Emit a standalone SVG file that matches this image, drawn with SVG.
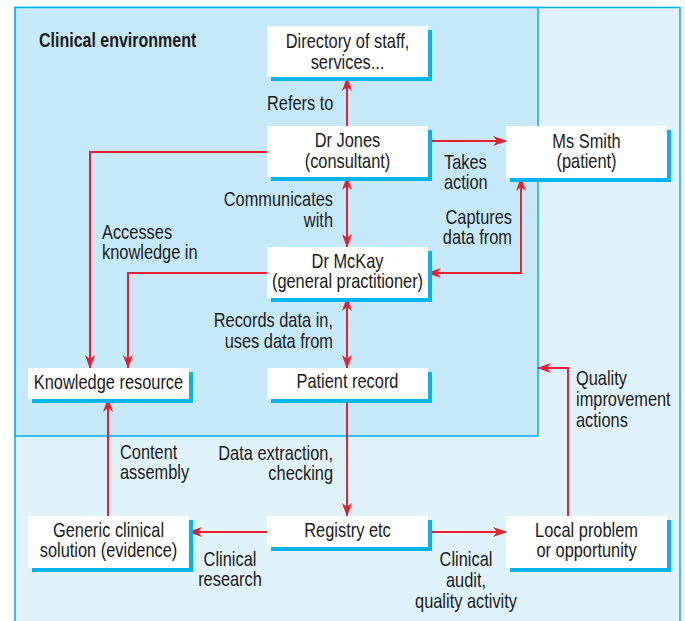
<svg xmlns="http://www.w3.org/2000/svg" width="685" height="621" viewBox="0 0 685 621">
<defs>
<marker id="ah" viewBox="0 0 14 10" refX="13" refY="5" markerWidth="14" markerHeight="10" orient="auto-start-reverse" markerUnits="userSpaceOnUse">
<path d="M0,0 L14,5 L0,10 L4,5 z" fill="#e8202e"/>
</marker>
</defs>
<style>
text{font-family:"Liberation Sans",Arial,sans-serif;font-size:20px;fill:#1a1a1a}
.b{font-weight:bold;font-size:19.5px}
.m{text-anchor:middle}
.e{text-anchor:end}
.sh{fill:#00b4ec}
.bx{fill:#ffffff}
.c path{fill:none;stroke:#e8202e;stroke-width:2}
</style>
<rect x="0" y="0" width="685" height="621" fill="#ffffff"/>
<g id="background">
<rect x="15" y="7.5" width="665" height="620" fill="#e0f3fb" stroke="#00aeef" stroke-width="1.5"/>
<rect x="15" y="7.5" width="523" height="428.5" fill="#c6e9f9" stroke="#00aeef" stroke-width="1.5"/>
<text class="b" transform="matrix(0.82 0 0 1 39 47)">Clinical environment</text>
</g>
<g class="c" id="connectors">
<path d="M347,126 V78" marker-end="url(#ah)"/>
<path d="M428,141 H506" marker-end="url(#ah)"/>
<path d="M347,177 V247" marker-start="url(#ah)" marker-end="url(#ah)"/>
<path d="M521,178 V273 H428" marker-start="url(#ah)" marker-end="url(#ah)"/>
<path d="M267,152 H90 V368" marker-end="url(#ah)"/>
<path d="M267,273 H128 V368" marker-end="url(#ah)"/>
<path d="M347,298 V368" marker-start="url(#ah)" marker-end="url(#ah)"/>
<path d="M347,399 V516" marker-end="url(#ah)"/>
<path d="M108,516 V399" marker-end="url(#ah)"/>
<path d="M267,532 H189" marker-end="url(#ah)"/>
<path d="M428,532 H506" marker-end="url(#ah)"/>
<path d="M568,516 V368 H538" marker-end="url(#ah)"/>
</g>
<g id="labels">
<text transform="matrix(0.82 0 0 1 267 110)">Refers to</text>
<text transform="matrix(0.82 0 0 1 444 169)">Takes</text>
<text transform="matrix(0.82 0 0 1 444 189)">action</text>
<text class="e" transform="matrix(0.82 0 0 1 333 206)">Communicates</text>
<text class="e" transform="matrix(0.82 0 0 1 333 227)">with</text>
<text class="e" transform="matrix(0.82 0 0 1 512 224)">Captures</text>
<text class="e" transform="matrix(0.82 0 0 1 512 244)">data from</text>
<text transform="matrix(0.82 0 0 1 102 239)">Accesses</text>
<text transform="matrix(0.82 0 0 1 102 259)">knowledge in</text>
<text class="e" transform="matrix(0.82 0 0 1 333 327)">Records data in,</text>
<text class="e" transform="matrix(0.82 0 0 1 333 348)">uses data from</text>
<text class="e" transform="matrix(0.82 0 0 1 333 460)">Data extraction,</text>
<text class="e" transform="matrix(0.82 0 0 1 333 480)">checking</text>
<text transform="matrix(0.82 0 0 1 120 459)">Content</text>
<text transform="matrix(0.82 0 0 1 120 479)">assembly</text>
<text class="m" transform="matrix(0.82 0 0 1 230 566)">Clinical</text>
<text class="m" transform="matrix(0.82 0 0 1 230 586)">research</text>
<text class="m" transform="matrix(0.82 0 0 1 466 566)">Clinical</text>
<text class="m" transform="matrix(0.82 0 0 1 466 587)">audit,</text>
<text class="m" transform="matrix(0.82 0 0 1 466 608)">quality activity</text>
<text transform="matrix(0.82 0 0 1 576 385)">Quality</text>
<text transform="matrix(0.82 0 0 1 576 406)">improvement</text>
<text transform="matrix(0.82 0 0 1 576 427)">actions</text>
</g>
<g id="directory">
<rect class="sh" x="271" y="30" width="161" height="51"/>
<rect class="bx" x="267" y="26" width="161" height="51"/>
<text class="m" transform="matrix(0.82 0 0 1 347.5 48)">Directory of staff,</text>
<text class="m" transform="matrix(0.82 0 0 1 347.5 69)">services...</text>
</g>
<g id="drjones">
<rect class="sh" x="271" y="130" width="161" height="51"/>
<rect class="bx" x="267" y="126" width="161" height="51"/>
<text class="m" transform="matrix(0.82 0 0 1 347.5 147)">Dr Jones</text>
<text class="m" transform="matrix(0.82 0 0 1 347.5 168)">(consultant)</text>
</g>
<g id="mssmith">
<rect class="sh" x="510" y="130" width="161" height="52"/>
<rect class="bx" x="506" y="126" width="161" height="52"/>
<text class="m" transform="matrix(0.82 0 0 1 586.5 148)">Ms Smith</text>
<text class="m" transform="matrix(0.82 0 0 1 586.5 168)">(patient)</text>
</g>
<g id="drmckay">
<rect class="sh" x="271" y="251" width="161" height="51"/>
<rect class="bx" x="267" y="247" width="161" height="51"/>
<text class="m" transform="matrix(0.82 0 0 1 347.5 268)">Dr McKay</text>
<text class="m" transform="matrix(0.82 0 0 1 347.5 288)">(general practitioner)</text>
</g>
<g id="patientrecord">
<rect class="sh" x="271" y="372" width="161" height="31"/>
<rect class="bx" x="267" y="368" width="161" height="31"/>
<text class="m" transform="matrix(0.82 0 0 1 347.5 388)">Patient record</text>
</g>
<g id="knowledge">
<rect class="sh" x="32" y="372" width="161" height="31"/>
<rect class="bx" x="28" y="368" width="161" height="31"/>
<text class="m" transform="matrix(0.82 0 0 1 108.5 389)">Knowledge resource</text>
</g>
<g id="generic">
<rect class="sh" x="32" y="520" width="161" height="52"/>
<rect class="bx" x="28" y="516" width="161" height="52"/>
<text class="m" transform="matrix(0.82 0 0 1 108.5 537)">Generic clinical</text>
<text class="m" transform="matrix(0.82 0 0 1 108.5 557)">solution (evidence)</text>
</g>
<g id="registry">
<rect class="sh" x="271" y="520" width="161" height="31"/>
<rect class="bx" x="267" y="516" width="161" height="31"/>
<text class="m" transform="matrix(0.82 0 0 1 347.5 537)">Registry etc</text>
</g>
<g id="localproblem">
<rect class="sh" x="510" y="520" width="161" height="52"/>
<rect class="bx" x="506" y="516" width="161" height="52"/>
<text class="m" transform="matrix(0.82 0 0 1 586.5 537)">Local problem</text>
<text class="m" transform="matrix(0.82 0 0 1 586.5 557)">or opportunity</text>
</g>
</svg>
